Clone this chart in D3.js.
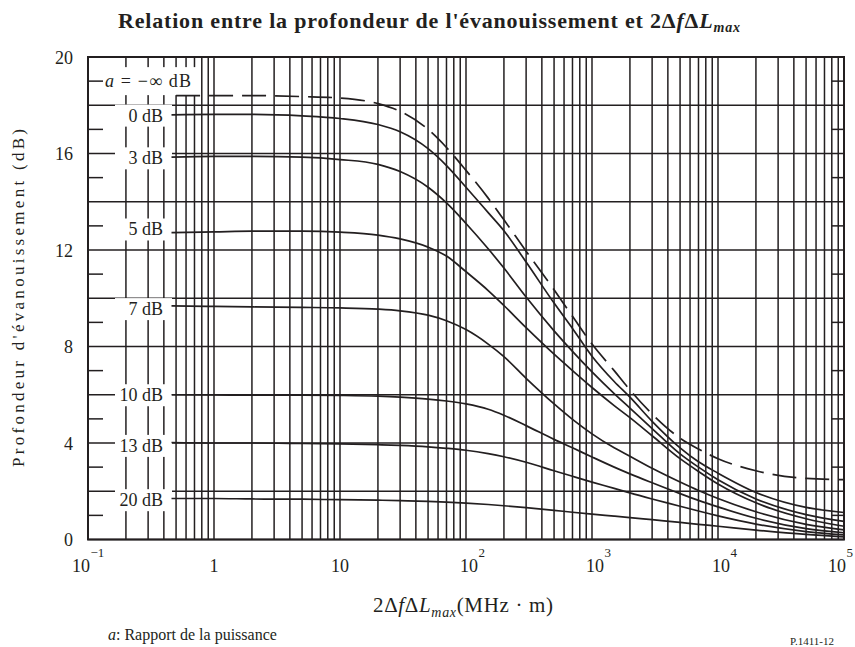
<!DOCTYPE html>
<html><head><meta charset="utf-8">
<script src="https://cdn.jsdelivr.net/npm/d3@7"></script>
<style>
body{margin:0;background:#fff}
svg{display:block}
text{font-family:"Liberation Serif","Times New Roman",serif;fill:#231f20}
</style>
</head><body>
<svg id="chart" width="855" height="647"></svg>
<script>
// ---- data ----
const xValues = [0.46, 1, 2, 5, 10, 20, 30, 50, 70, 100, 150, 200, 300, 500, 700, 1000, 1500, 2000, 3000, 5000, 7000, 10000, 20000, 50000, 100000];
const seriesNames = ["a = −∞ dB", "0 dB", "3 dB", "5 dB", "7 dB", "10 dB", "13 dB", "20 dB"];
const aMinusInf = [18.4, 18.4, 18.4, 18.36, 18.3, 18.07, 17.75, 17.0, 16.25, 15.3, 14.15, 13.25, 11.95, 10.35, 9.25, 8.1, 7.0, 6.2, 5.2, 4.2, 3.75, 3.35, 2.85, 2.53, 2.48];
const a0dB  = [17.6, 17.62, 17.62, 17.56, 17.45, 17.2, 16.9, 16.2, 15.5, 14.6, 13.55, 12.8, 11.5, 9.8, 8.75, 7.6, 6.55, 5.9, 4.9, 3.8, 3.22, 2.75, 1.95, 1.33, 1.12];
const a3dB  = [15.85, 15.88, 15.88, 15.85, 15.75, 15.55, 15.25, 14.6, 13.95, 13.1, 12.05, 11.25, 10.05, 8.65, 7.8, 6.95, 6.05, 5.45, 4.6, 3.55, 3.0, 2.48, 1.68, 1.03, 0.75];
const a5dB  = [12.72, 12.75, 12.78, 12.78, 12.74, 12.62, 12.46, 12.12, 11.75, 11.1, 10.32, 9.7, 8.78, 7.68, 7.0, 6.3, 5.55, 5.05, 4.3, 3.35, 2.82, 2.3, 1.52, 0.86, 0.55];
const a7dB  = [9.68, 9.66, 9.64, 9.62, 9.6, 9.55, 9.48, 9.3, 9.07, 8.7, 8.1, 7.58, 6.68, 5.62, 4.98, 4.38, 3.8, 3.45, 2.95, 2.38, 2.03, 1.7, 1.15, 0.63, 0.4];
const a10dB = [6.0, 5.99, 5.98, 5.98, 5.97, 5.94, 5.9, 5.82, 5.74, 5.62, 5.4, 5.15, 4.72, 4.15, 3.8, 3.42, 3.0, 2.72, 2.35, 1.9, 1.62, 1.35, 0.88, 0.45, 0.28];
const a13dB = [4.02, 4.0, 4.0, 3.98, 3.96, 3.93, 3.9, 3.84, 3.78, 3.7, 3.56, 3.43, 3.2, 2.85, 2.62, 2.38, 2.12, 1.93, 1.68, 1.38, 1.18, 0.98, 0.64, 0.33, 0.19];
const a20dB = [1.7, 1.7, 1.68, 1.67, 1.65, 1.63, 1.61, 1.58, 1.55, 1.51, 1.45, 1.4, 1.32, 1.21, 1.13, 1.05, 0.97, 0.91, 0.82, 0.71, 0.63, 0.55, 0.39, 0.21, 0.11];
const seriesValues = [aMinusInf, a0dB, a3dB, a5dB, a7dB, a10dB, a13dB, a20dB];
const labelLevels = [19, 17.57, 15.8, 12.85, 9.55, 5.98, 3.88, 1.63];
const yTickValues = [0, 4, 8, 12, 16, 20];
const xTickValues = [0.1, 1, 10, 100, 1000, 10000, 100000];
const xTickBase = ["10", "1", "10", "10", "10", "10", "10"];
const xTickExp = ["−1", "", "", "2", "3", "4", "5"];

// ---- drawing ----
const ink = "#231f20";
const svg = d3.select("#chart");
const x = d3.scaleLog().domain([0.1, 1e5]).range([88, 844]);
const y = d3.scaleLinear().domain([0, 20]).range([539.5, 57]);

// vertical grid
const vgrid = [];
for (let e = -1; e <= 4; e++) for (let k = 1; k <= 9; k++) vgrid.push(k * Math.pow(10, e));
vgrid.push(1e5);
svg.append("g").selectAll("line").data(vgrid).join("line")
  .attr("x1", d => x(d)).attr("x2", d => x(d))
  .attr("y1", y(0)).attr("y2", y(20))
  .attr("stroke", ink).attr("stroke-width", 1.5);

// horizontal grid every 2 dB
const hgrid = d3.range(0, 21, 2);
svg.append("g").selectAll("line").data(hgrid).join("line")
  .attr("x1", x(0.1)).attr("x2", x(1e5))
  .attr("y1", d => y(d)).attr("y2", d => y(d))
  .attr("stroke", ink).attr("stroke-width", 1.5);

// minor ticks at odd dB on both sides
const minor = d3.range(1, 20, 2);
svg.append("g").selectAll("line").data(minor).join("line")
  .attr("x1", x(0.1)).attr("x2", x(0.1) + 15)
  .attr("y1", d => y(d)).attr("y2", d => y(d))
  .attr("stroke", ink).attr("stroke-width", 1.5);
svg.append("g").selectAll("line").data(minor).join("line")
  .attr("x1", x(1e5) - 12).attr("x2", x(1e5))
  .attr("y1", d => y(d)).attr("y2", d => y(d))
  .attr("stroke", ink).attr("stroke-width", 1.5);

// frame
svg.append("rect").attr("x", x(0.1)).attr("y", y(20))
  .attr("width", x(1e5) - x(0.1)).attr("height", y(0) - y(20))
  .attr("fill", "none").attr("stroke", ink).attr("stroke-width", 2);

// label boxes (white) covering grid
seriesNames.forEach((n, i) => {
  const cy = y(labelLevels[i]);
  if (i === 0) {
    svg.append("rect").attr("x", 103).attr("y", cy - 14).attr("width", 95).attr("height", 28).attr("fill", "#fff");
  } else {
    svg.append("rect").attr("x", 115).attr("y", cy - 11).attr("width", 57).attr("height", 22).attr("fill", "#fff");
  }
});

// curves
const line = d3.line().x(d => x(d[0])).y(d => y(d[1])).curve(d3.curveMonotoneX);
seriesValues.forEach((vals, i) => {
  const pts = xValues.map((xv, j) => [i === 0 && j === 0 ? 0.5 : xv, vals[j]]);
  svg.append("path").attr("d", line(pts))
    .attr("fill", "none").attr("stroke", ink).attr("stroke-width", 1.7)
    .attr("stroke-dasharray", i === 0 ? "24,9" : null);
});

// curve labels
seriesNames.forEach((n, i) => {
  const cy = y(labelLevels[i]);
  if (i === 0) {
    const t = svg.append("text").attr("x", 105).attr("y", cy + 6).attr("font-size", 18)
      .attr("textLength", 86).attr("lengthAdjust", "spacing");
    t.append("tspan").attr("font-style", "italic").text("a");
    t.append("tspan").text(" = −∞ dB");
  } else {
    svg.append("text").attr("x", 163).attr("y", cy + 6).attr("font-size", 18)
      .attr("text-anchor", "end").text(n);
  }
});

// y tick labels
svg.append("g").selectAll("text").data(yTickValues).join("text")
  .attr("x", 73).attr("y", d => y(d) + 6.5).attr("font-size", 18)
  .attr("text-anchor", "end").text(d => d);

// x tick labels
xTickValues.forEach((v, i) => {
  const px = x(v);
  const t = svg.append("text").attr("y", 572).attr("font-size", 18);
  if (i === 0) t.attr("x", px + 2).attr("text-anchor", "end");
  else if (i === xTickValues.length - 1) t.attr("x", px + 2).attr("text-anchor", "end");
  else t.attr("x", px + (xTickExp[i] ? 3 : 0)).attr("text-anchor", "middle");
  t.text(xTickBase[i]);
  if (xTickExp[i]) {
    const bb = t.node().getBBox();
    svg.append("text").attr("x", bb.x + bb.width + 0.5).attr("y", 557)
      .attr("font-size", 13).text(xTickExp[i]);
  }
});

// title
const title = svg.append("text").attr("x", 429).attr("y", 28).attr("font-size", 22)
  .attr("font-weight", "bold").attr("text-anchor", "middle")
  .attr("textLength", 622).attr("lengthAdjust", "spacing");
title.append("tspan").text("Relation entre la profondeur de l'évanouissement et 2Δ");
title.append("tspan").attr("font-style", "italic").text("f");
title.append("tspan").text("Δ");
title.append("tspan").attr("font-style", "italic").text("L");
title.append("tspan").attr("font-style", "italic").attr("font-size", 14).attr("dy", 4).text("max");

// x axis title
const xt = svg.append("text").attr("x", 463).attr("y", 612).attr("font-size", 21).attr("text-anchor", "middle")
  .attr("textLength", 180).attr("lengthAdjust", "spacing");
xt.append("tspan").text("2Δ");
xt.append("tspan").attr("font-style", "italic").text("f");
xt.append("tspan").text("Δ");
xt.append("tspan").attr("font-style", "italic").text("L");
xt.append("tspan").attr("font-style", "italic").attr("font-size", 14).attr("dy", 5).text("max");
xt.append("tspan").attr("dy", -5).text("(MHz · m)");

// y axis title
svg.append("text").attr("transform", "translate(24,298) rotate(-90)")
  .attr("font-size", 17).attr("text-anchor", "middle")
  .attr("textLength", 338).attr("lengthAdjust", "spacing")
  .text("Profondeur d'évanouissement (dB)");

// footnote
const fn = svg.append("text").attr("x", 108).attr("y", 640).attr("font-size", 16);
fn.append("tspan").attr("font-style", "italic").text("a");
fn.append("tspan").text(": Rapport de la puissance");

svg.append("text").attr("x", 790).attr("y", 645).attr("font-size", 11).text("P.1411-12");
</script>
</body></html>
